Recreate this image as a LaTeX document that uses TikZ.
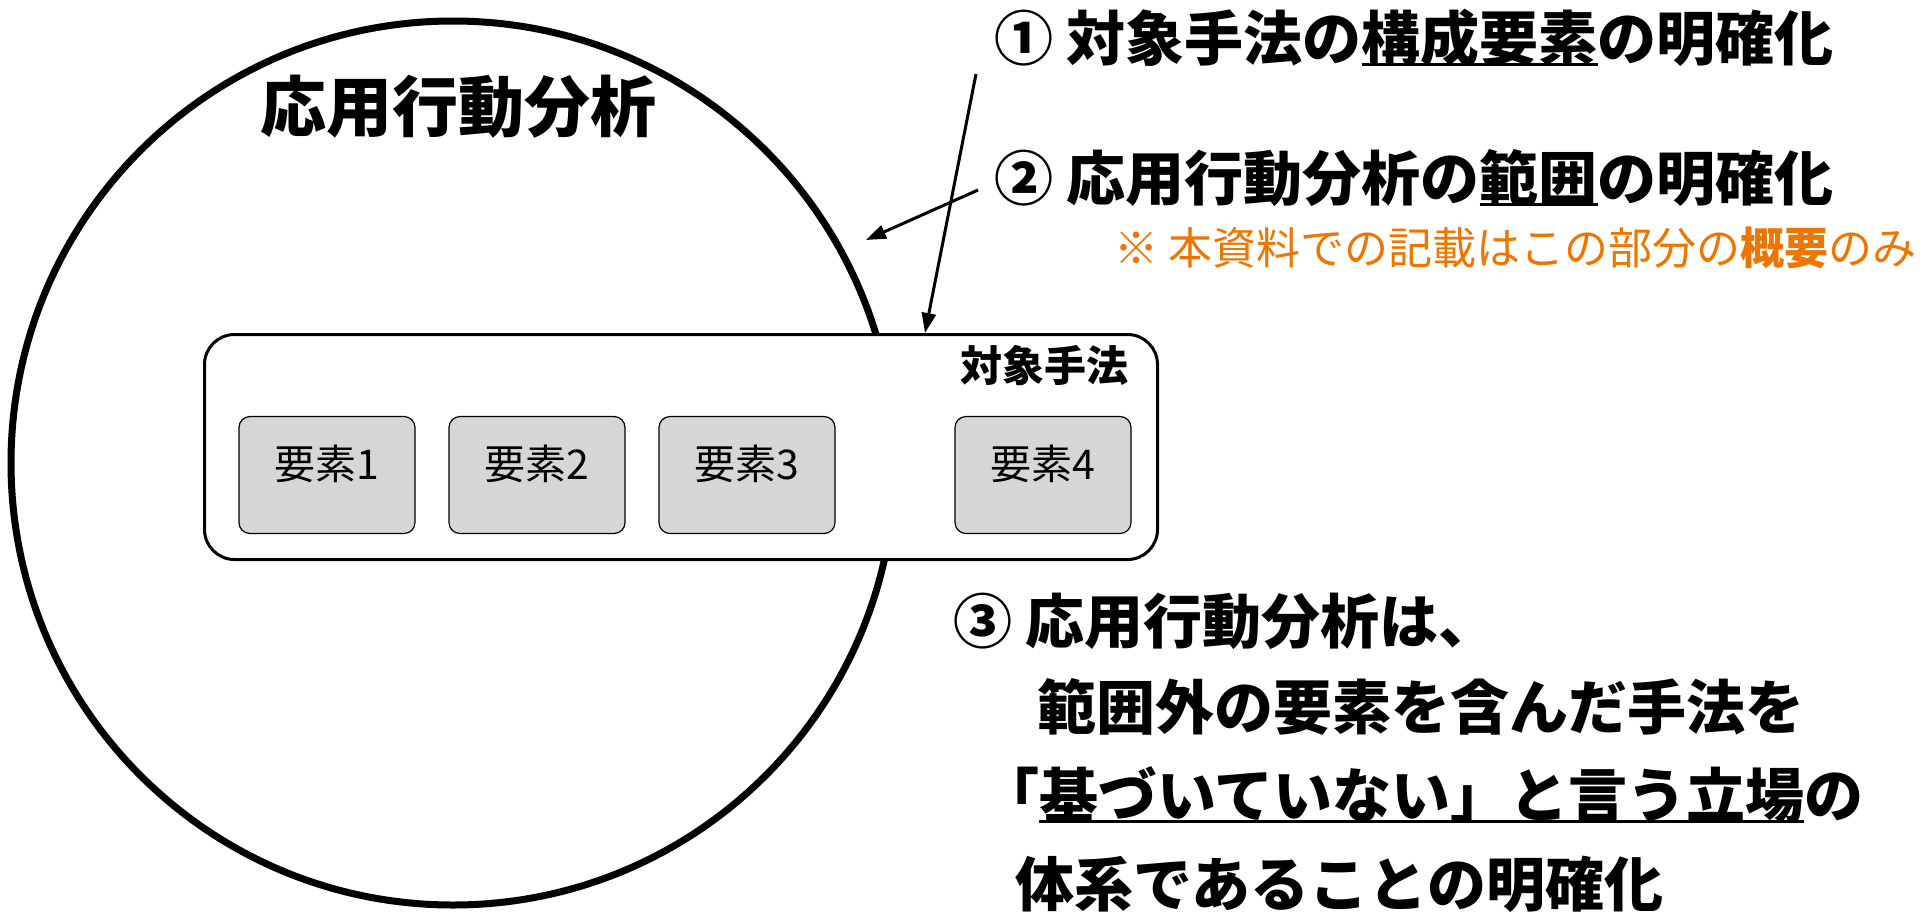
\documentclass[tikz,border=0pt]{standalone}
\usepackage{fontspec}
\setmainfont{Noto Sans CJK JP}
\usetikzlibrary{arrows.meta}

\definecolor{noteorange}{RGB}{238,118,0}
\newcommand{\kasen}[1]{\setbox0\hbox{#1}\rlap{\rule[-0.09em]{\wd0}{0.05em}}\box0}

\begin{document}
\begin{tikzpicture} [
            x=1pt, y=-1pt,
            every node/.style = { inner sep=0pt },
            title/.style  = { font=\fontsize{66}{80}\selectfont\bfseries },
            point/.style  = { anchor=west, font=\fontsize{59}{70}\selectfont\bfseries },
            note/.style   = { anchor=west, text=noteorange,
                              font=\fontsize{44}{52}\selectfont },
            field/.style  = { circle, draw, line width=7pt, minimum size=884pt },
            method/.style = { rectangle, draw, line width=3pt, fill=white,
                              rounded corners=30pt, minimum width=953pt,
                              minimum height=225pt },
            youso/.style  = { rectangle, draw, line width=1.2pt, fill=black!16,
                              rounded corners=11pt, minimum width=176pt,
                              minimum height=117pt, text height=36pt, text depth=27pt,
                              font=\fontsize{41}{49}\selectfont },
            line/.style   = { draw, line width=3pt,
                              -{Triangle[length=20pt,width=14pt]} },
          ]
          \useasboundingbox (0,0) rectangle (1924,911);

          \node (aba) [field] at (453,463) {};
          \node (abatitle) [title] at (458,107) {応用行動分析};

          \node (taisho) [method] at (681,447) {};
          \node (taishoname) [anchor=east, font=\fontsize{42}{50}\selectfont\bfseries]
                at (1129,366) {対象手法};
          \node (y1) [youso] at (327,475) {要素1};
          \node (y2) [youso] at (537,475) {要素2};
          \node (y3) [youso] at (747,475) {要素3};
          \node (y4) [youso] at (1043,475) {要素4};

          \node (p1) [point] at (994,38) {① 対象手法の\kasen{構成要素}の明確化};
          \node (p2) [point] at (994,178) {② 応用行動分析の\kasen{範囲}の明確化};
          \node (p2note) [note] at (1114,248) {※ 本資料での記載はこの部分の{\bfseries 概要}のみ};
          \node (p3a) [point] at (953,621) {③ 応用行動分析は、};
          \node (p3b) [point] at (1037,707) {範囲外の要素を含んだ手法を};
          \node (p3c) [point] at (980,795) {「\kasen{基づいていない」と言う立場}の};
          \node (p3d) [point] at (1015,884) {体系であることの明確化};

          \coordinate (a1) at (976,74);
          \coordinate (a1end) at (925,333);
          \coordinate (a2) at (978,190);
          \coordinate (a2end) at (866,240);
            \draw [line] (a1) -- (a1end);
            \draw [line] (a2) -- (a2end);
        \end{tikzpicture}
\end{document}
